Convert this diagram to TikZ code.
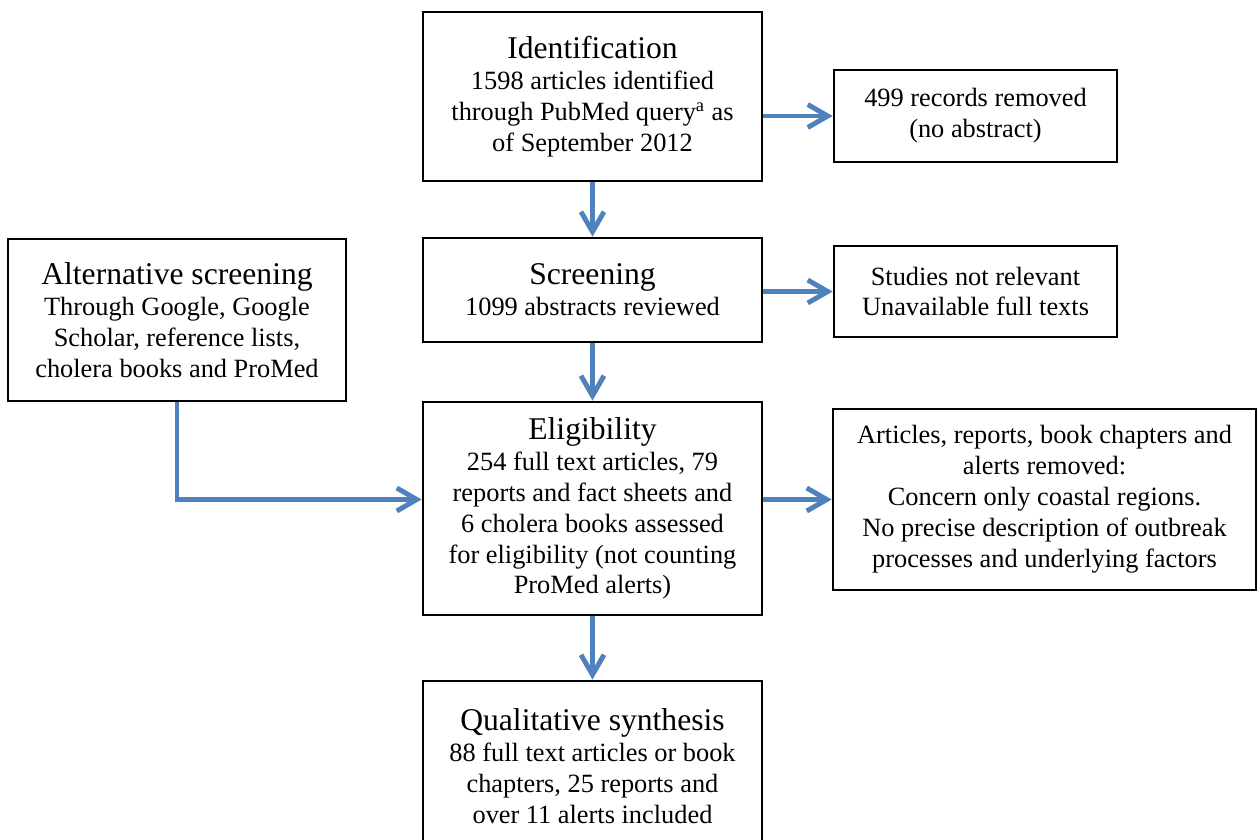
\documentclass[tikz,border=0pt]{standalone}
\usepackage{fontspec}
\setmainfont{Liberation Serif}
\usetikzlibrary{arrows.meta}
\definecolor{flowblue}{RGB}{79,129,189}
\newcommand{\boxtitle}[1]{{\fontsize{18}{17.6}\selectfont #1}}

\begin{document}
\begin{tikzpicture}[
    stage/.style={draw, rectangle, line width=1.5pt, align=center, inner sep=2pt, font=\fontsize{15}{17.6}\selectfont},
    flow/.style={-{Straight Barb[length=4mm, width=4.6mm]}, flowblue, line width=2.8pt}
]
        \useasboundingbox (0,0) rectangle (25.14,-16.8);

        % Main screening stages
        \node[stage, minimum width=6.78cm, minimum height=3.38cm] (ident) at (11.85,-1.93) {\boxtitle{Identification}\\ 1598 articles identified\\ through PubMed query\textsuperscript{a} as\\ of September 2012};
        \node[stage, minimum width=6.78cm, minimum height=2.08cm] (screen) at (11.85,-5.80) {\boxtitle{Screening}\\ 1099 abstracts reviewed};
        \node[stage, minimum width=6.78cm, minimum height=4.26cm] (elig) at (11.85,-10.17) {\boxtitle{Eligibility}\\ 254 full text articles, 79\\ reports and fact sheets and\\ 6 cholera books assessed\\ for eligibility (not counting\\ ProMed alerts)};
        \node[stage, minimum width=6.78cm, minimum height=3.4cm] (synth) at (11.85,-15.32) {\boxtitle{Qualitative synthesis}\\ 88 full text articles or book\\ chapters, 25 reports and\\ over 11 alerts included};

        % Side boxes
        \node[stage, minimum width=6.76cm, minimum height=3.24cm] (altscreen) at (3.54,-6.40) {\boxtitle{Alternative screening}\\ Through Google, Google\\ Scholar, reference lists,\\ cholera books and ProMed};
        \node[stage, minimum width=5.66cm, minimum height=1.84cm] (noabstract) at (19.51,-2.32) {499 records removed\\ (no abstract)};
        \node[stage, minimum width=5.66cm, minimum height=1.82cm] (notrelevant) at (19.51,-5.83) {Studies not relevant\\ Unavailable full texts};
        \node[stage, minimum width=8.46cm, minimum height=3.62cm] (removed) at (20.89,-9.99) {Articles, reports, book chapters and\\ alerts removed:\\ Concern only coastal regions.\\ No precise description of outbreak\\ processes and underlying factors};

        % Connect nodes
        \draw[flow] (ident) -- (screen);
        \draw[flow] (screen) -- (elig);
        \draw[flow] (elig) -- (synth);
        \draw[flow] (ident.east |- noabstract.west) -- (noabstract.west);
        \draw[flow] (screen.east |- notrelevant.west) -- (notrelevant.west);
        \draw[flow] (elig.east |- removed.west) -- (removed.west);
        \draw[flow] (altscreen.south) |- (elig.west |- removed.west);
    \end{tikzpicture}
\end{document}
